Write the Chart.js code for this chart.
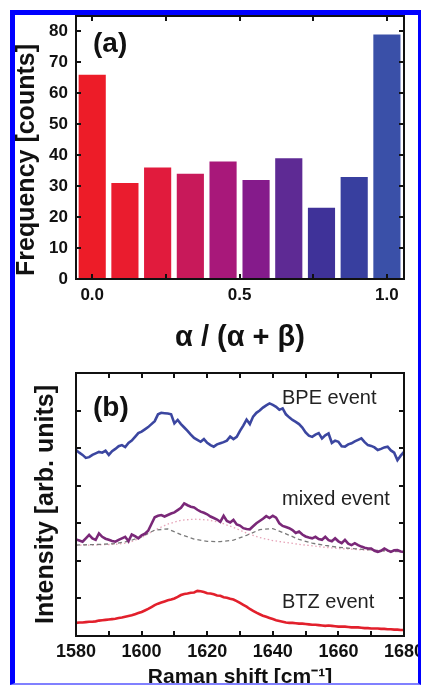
<!DOCTYPE html>
<html>
<head>
<meta charset="utf-8">
<script src="https://cdn.jsdelivr.net/npm/chart.js@4.4.0/dist/chart.umd.min.js"></script>
<style>
  html, body { margin: 0; padding: 0; background: #fff; }
  body { width: 421px; height: 685px; position: relative; overflow: hidden; }
  canvas { position: absolute; left: 0; }
  #histo { top: 0; }
  #raman { top: 358px; }
  .frame-border {
    position: absolute; left: 10px; top: 10px; width: 403px; height: 668px;
    border-style: solid; border-color: #0000ff #0000ff #8080ff #0000ff;
    border-width: 5px 3px 2px 5px; pointer-events: none; z-index: 2;
  }
</style>
</head>
<body>
<canvas id="histo" width="421" height="358"></canvas>
<canvas id="raman" width="421" height="335"></canvas>
<div class="frame-border"></div>
<script>
// (a) histogram of alpha / (alpha + beta)
const binCenters = [0, 0.111, 0.222, 0.333, 0.444, 0.556, 0.667, 0.778, 0.889, 1.0];
const counts = [66, 31, 36, 34, 38, 32, 39, 23, 33, 79];

// (b) Raman spectra, intensity in arbitrary units (offset traces)
const shift = [1580, 1581, 1582, 1583, 1584, 1585, 1586, 1587, 1588, 1589,
  1590, 1591, 1592, 1593, 1594, 1595, 1596, 1597, 1598, 1599,
  1600, 1601, 1602, 1603, 1604, 1605, 1606, 1607, 1608, 1609,
  1610, 1611, 1612, 1613, 1614, 1615, 1616, 1617, 1618, 1619,
  1620, 1621, 1622, 1623, 1624, 1625, 1626, 1627, 1628, 1629,
  1630, 1631, 1632, 1633, 1634, 1635, 1636, 1637, 1638, 1639,
  1640, 1641, 1642, 1643, 1644, 1645, 1646, 1647, 1648, 1649,
  1650, 1651, 1652, 1653, 1654, 1655, 1656, 1657, 1658, 1659,
  1660, 1661, 1662, 1663, 1664, 1665, 1666, 1667, 1668, 1669,
  1670, 1671, 1672, 1673, 1674, 1675, 1676, 1677, 1678, 1679, 1680];
const bpe = [4.95, 4.88, 4.82, 4.74, 4.76, 4.82, 4.86, 4.9, 4.88, 4.93,
  4.82, 4.92, 4.98, 5.05, 5.08, 5.03, 5.14, 5.2, 5.3, 5.4,
  5.44, 5.5, 5.56, 5.64, 5.72, 5.9, 5.94, 5.93, 5.92, 5.9,
  5.66, 5.75, 5.64, 5.55, 5.46, 5.36, 5.27, 5.22, 5.17, 5.24,
  5.14, 5.08, 5.04, 5.1, 5.13, 5.16, 5.2, 5.31, 5.24, 5.3,
  5.46, 5.6, 5.76, 5.64, 5.84, 5.94, 6.0, 6.08, 6.14, 6.19,
  6.15, 6.1, 6.02, 6.06, 5.9, 5.82, 5.75, 5.7, 5.64, 5.55,
  5.42, 5.33, 5.3, 5.36, 5.4, 5.26, 5.34, 5.39, 5.14, 5.2,
  5.17, 5.05, 5.04, 5.1, 5.13, 5.18, 5.22, 5.26, 5.16, 5.08,
  5.06, 5.02, 4.95, 4.98, 5.02, 5.04, 4.94, 4.88, 4.68, 4.8, 4.9];
const mixed = [2.57, 2.54, 2.51, 2.6, 2.69, 2.6, 2.56, 2.73, 2.64, 2.59,
  2.56, 2.53, 2.51, 2.56, 2.6, 2.64, 2.52, 2.7, 2.66, 2.6,
  2.68, 2.72, 2.8, 2.98, 3.16, 3.2, 3.22, 3.18, 3.22, 3.26,
  3.29, 3.35, 3.41, 3.53, 3.48, 3.44, 3.42, 3.36, 3.31, 3.28,
  3.24, 3.18, 3.14, 3.1, 3.04, 3.2, 3.06, 3.02, 3.09, 2.97,
  2.94, 2.87, 2.85, 2.84, 2.92, 3.0, 3.06, 3.12, 3.19, 3.14,
  3.2, 3.15, 3.0, 2.93, 2.9, 2.87, 2.82, 2.74, 2.78, 2.7,
  2.65, 2.62, 2.6, 2.64, 2.58, 2.56, 2.64, 2.55, 2.52, 2.6,
  2.52, 2.47, 2.56, 2.46, 2.42, 2.47, 2.42, 2.38, 2.35, 2.33,
  2.33, 2.27, 2.24, 2.27, 2.33, 2.28, 2.24, 2.28, 2.29, 2.25, 2.24];
const btz = [0.35, 0.36, 0.36, 0.37, 0.38, 0.38, 0.39, 0.41, 0.42, 0.43,
  0.44, 0.45, 0.46, 0.48, 0.49, 0.51, 0.53, 0.55, 0.58, 0.61,
  0.64, 0.68, 0.72, 0.77, 0.82, 0.86, 0.89, 0.92, 0.95, 0.97,
  1.0, 1.04, 1.09, 1.12, 1.13, 1.15, 1.16, 1.2, 1.19, 1.17,
  1.14, 1.13, 1.11, 1.08, 1.07, 1.03, 1.02, 0.99, 0.97, 0.93,
  0.88, 0.83, 0.78, 0.72, 0.67, 0.62, 0.58, 0.54, 0.51, 0.48,
  0.45, 0.42, 0.4, 0.38, 0.36, 0.35, 0.35, 0.34, 0.33, 0.33,
  0.32, 0.31, 0.3, 0.3, 0.29, 0.28, 0.27, 0.28, 0.27, 0.26,
  0.25, 0.25, 0.25, 0.24, 0.23, 0.23, 0.23, 0.22, 0.21, 0.21,
  0.2, 0.2, 0.2, 0.19, 0.19, 0.18, 0.18, 0.17, 0.17, 0.16, 0.16];

// fit components of the mixed event
const fitShift = [1580, 1584, 1588, 1592, 1596, 1600, 1604, 1608, 1612, 1616,
  1620, 1624, 1628, 1632, 1636, 1640, 1644, 1648, 1652, 1656,
  1660, 1664, 1668, 1672, 1676, 1680];
const fitDashed = [2.42, 2.43, 2.44, 2.46, 2.52, 2.64, 2.82, 2.85, 2.7, 2.58,
  2.52, 2.51, 2.55, 2.68, 2.83, 2.86, 2.72, 2.57, 2.47, 2.41,
  2.36, 2.33, 2.3, 2.28, 2.26, 2.24];
const fitDotted = [2.42, 2.42, 2.43, 2.44, 2.48, 2.62, 2.82, 2.98, 3.08, 3.11,
  3.09, 3.02, 2.89, 2.74, 2.62, 2.54, 2.49, 2.44, 2.4, 2.36,
  2.33, 2.31, 2.29, 2.27, 2.25, 2.24];

const barColors = ['#ed1c28', '#ea1c2e', '#e11b3d', '#c8195a', '#a8187a',
  '#851b8b', '#5e2a94', '#3f3299', '#383f9f', '#3a50a8'];

const FONT = "'Liberation Sans', Arial, sans-serif";
Chart.defaults.font.family = FONT;
Chart.defaults.color = '#111';

const pts = (xs, ys) => xs.map((x, i) => ({ x, y: ys[i] }));

// box around the plot area with short inward ticks on all four sides
const frame = {
  id: 'frame',
  afterDraw(chart) {
    const { ctx, chartArea: a, scales } = chart;
    const len = 5;
    ctx.save();
    ctx.strokeStyle = '#111';
    ctx.lineWidth = 2;
    ctx.beginPath();
    scales.x.ticks.forEach(t => {
      const px = Math.round(scales.x.getPixelForValue(t.value));
      if (px <= a.left + 1 || px >= a.right - 1) return;
      ctx.moveTo(px, a.bottom); ctx.lineTo(px, a.bottom - len);
      ctx.moveTo(px, a.top); ctx.lineTo(px, a.top + len);
    });
    scales.y.ticks.forEach(t => {
      const py = Math.round(scales.y.getPixelForValue(t.value));
      if (py <= a.top + 1 || py >= a.bottom - 1) return;
      ctx.moveTo(a.left, py); ctx.lineTo(a.left + len, py);
      ctx.moveTo(a.right, py); ctx.lineTo(a.right - len, py);
    });
    ctx.stroke();
    ctx.strokeRect(a.left, a.top, a.right - a.left, a.bottom - a.top);
    ctx.restore();
  }
};

// free text: panel letters, trace names, rotated y title of (a)
const notes = {
  id: 'notes',
  afterDraw(chart, args, opts) {
    const { ctx } = chart;
    (opts.items || []).forEach(it => {
      ctx.save();
      ctx.font = it.font + ' ' + FONT;
      ctx.fillStyle = it.color || '#111';
      ctx.textAlign = it.align || 'left';
      ctx.textBaseline = 'alphabetic';
      ctx.translate(it.x, it.y);
      if (it.rotate) ctx.rotate(it.rotate);
      ctx.fillText(it.text, 0, 0);
      ctx.restore();
    });
  }
};

const noGrid = { display: false, drawTicks: false };

// keep the plot area fixed, whatever the edge labels need
const fixX = h => s => { s.height = h; s.paddingLeft = 0; s.paddingRight = 0; };
const fixY = w => s => { s.width = w; s.paddingTop = 0; s.paddingBottom = 0; };

new Chart(document.getElementById('histo'), {
  type: 'bar',
  data: {
    datasets: [{
      data: pts(binCenters, counts),
      backgroundColor: barColors,
      borderWidth: 0,
      barPercentage: 0.83,
      categoryPercentage: 1
    }]
  },
  options: {
    responsive: false,
    animation: false,
    layout: { padding: { left: 10, right: 17, top: 16, bottom: 0 } },
    plugins: {
      legend: { display: false },
      tooltip: { enabled: false },
      notes: {
        items: [
          { text: '(a)', x: 93, y: 52, font: 'bold 28px' },
          { text: 'Frequency [counts]', x: 34, y: 160, font: 'bold 25px', align: 'center', rotate: -Math.PI / 2 }
        ]
      }
    },
    scales: {
      x: {
        type: 'linear', min: -0.055, max: 1.058, offset: false,
        grid: noGrid, border: { display: false },
        ticks: {
          stepSize: 0.25, includeBounds: false, autoSkip: false, maxRotation: 0,
          padding: 6, font: { size: 17, weight: 'bold' },
          callback: v => (v % 0.5 === 0 ? v.toFixed(1) : '')
        },
        title: { display: true, text: 'α / (α + β)', font: { size: 29, weight: 'bold' }, padding: { top: 0, bottom: 3 } },
        afterFit: fixX(79)
      },
      y: {
        min: 0, max: 85,
        grid: noGrid, border: { display: false },
        ticks: { stepSize: 10, includeBounds: false, padding: 8, font: { size: 17, weight: 'bold' } },
        afterFit: fixY(66)
      }
    }
  },
  plugins: [frame, notes]
});

new Chart(document.getElementById('raman'), {
  type: 'line',
  data: {
    datasets: [
      { data: pts(shift, bpe), borderColor: '#3b46a0', borderWidth: 2.6 },
      { data: pts(shift, mixed), borderColor: '#7a2878', borderWidth: 2.6 },
      { data: pts(shift, btz), borderColor: '#e2202c', borderWidth: 2.6 },
      { data: pts(fitShift, fitDashed), borderColor: '#7a7a7a', borderWidth: 1.3, borderDash: [4, 3] },
      { data: pts(fitShift, fitDotted), borderColor: '#e6a3b8', borderWidth: 1.3, borderDash: [1.5, 2.5] }
    ]
  },
  options: {
    responsive: false,
    animation: false,
    elements: { point: { radius: 0 }, line: { tension: 0 } },
    layout: { padding: { left: 10, right: 17, top: 15, bottom: 0 } },
    plugins: {
      legend: { display: false },
      tooltip: { enabled: false },
      notes: {
        items: [
          { text: '(b)', x: 93, y: 58, font: 'bold 28px' },
          { text: 'BPE event', x: 282, y: 46, font: '20px', color: '#222' },
          { text: 'mixed event', x: 282, y: 147, font: '20px', color: '#222' },
          { text: 'BTZ event', x: 282, y: 250, font: '20px', color: '#222' }
        ]
      }
    },
    scales: {
      x: {
        type: 'linear', min: 1580, max: 1680,
        grid: noGrid, border: { display: false },
        ticks: {
          stepSize: 10, autoSkip: false, maxRotation: 0,
          padding: 5, font: { size: 18, weight: 'bold' },
          callback: v => (v % 20 === 0 ? String(v) : '')
        },
        title: { display: true, text: 'Raman shift [cm⁻¹]', font: { size: 21, weight: 'bold' }, padding: { top: 0, bottom: 3 } },
        afterFit: fixX(57)
      },
      y: {
        min: 0, max: 7,
        grid: noGrid, border: { display: false },
        ticks: { stepSize: 1, display: false },
        title: { display: true, text: 'Intensity [arb. units]', font: { size: 25, weight: 'bold' }, padding: { top: 21, bottom: 0 } },
        afterFit: fixY(66)
      }
    }
  },
  plugins: [frame, notes]
});
</script>
</body>
</html>
